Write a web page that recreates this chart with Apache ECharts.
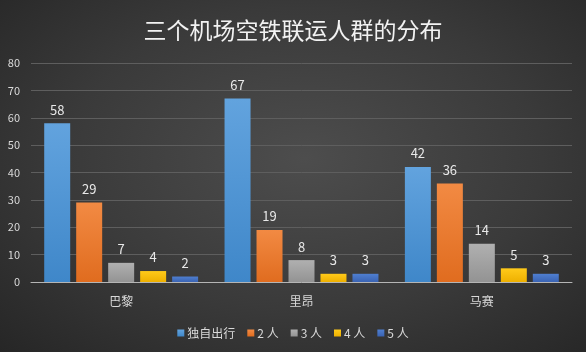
<!DOCTYPE html>
<html>
<head>
<meta charset="utf-8">
<style>
  html, body { margin: 0; padding: 0; }
  #chart {
    width: 586px;
    height: 352px;
    background: radial-gradient(ellipse at 52% 45%, #4d4d4d 0%, #3a3a3a 55%, #262626 100%);
  }
</style>
<script src="https://cdn.jsdelivr.net/npm/echarts@6/dist/echarts.min.js"></script>
</head>
<body>
<div id="chart"></div>
<script>
  const cities = ['巴黎', '里昂', '马赛'];
  const groupNames = ['独自出行', '2 人', '3 人', '4 人', '5 人'];
  const alone = [58, 67, 42];
  const two = [29, 19, 36];
  const three = [7, 8, 14];
  const four = [4, 3, 5];
  const five = [2, 3, 3];
  const yTicks = [0, 10, 20, 30, 40, 50, 60, 70, 80];

  const colors = [
    ['#62a3de', '#3f87c9'],
    ['#f28a43', '#e06c1f'],
    ['#b0b0b0', '#939393'],
    ['#ffca1a', '#eeb000'],
    ['#4f7fd0', '#3a63b3'],
  ];
  const seriesData = [alone, two, three, four, five];

  const font = '"Noto Sans CJK SC", "Noto Sans", sans-serif';
  const chart = echarts.init(document.getElementById('chart'));

  const option = {
    color: colors.map(c => c[0]),
    textStyle: { fontFamily: font },
    title: {
      text: '三个机场空铁联运人群的分布',
      left: 'center',
      top: 14,
      textStyle: { color: '#f2f2f2', fontSize: 23, fontWeight: 'normal', fontFamily: font },
    },
    legend: {
      data: groupNames,
      bottom: 8,
      left: 'center',
      itemWidth: 7,
      itemHeight: 7,
      itemGap: 12,
      icon: 'rect',
      textStyle: { color: '#d9d9d9', fontSize: 12, padding: [0, 0, 0, -2] },
    },
    grid: { left: 31, right: 14, top: 63, bottom: 70 },
    xAxis: {
      type: 'category',
      data: cities,
      axisLine: { lineStyle: { color: '#b5b5b5', width: 1 } },
      axisTick: { show: false },
      axisLabel: { color: '#d9d9d9', fontSize: 12, margin: 13 },
    },
    yAxis: {
      type: 'value',
      min: yTicks[0],
      max: yTicks[yTicks.length - 1],
      interval: 10,
      axisLine: { show: false },
      axisTick: { show: false },
      axisLabel: { color: '#d9d9d9', fontSize: 11, margin: 11 },
      splitLine: { lineStyle: { color: '#5e5e5e', width: 1 } },
    },
    series: groupNames.map((name, i) => ({
      name,
      type: 'bar',
      data: seriesData[i],
      barWidth: 26,
      barGap: '23%',
      itemStyle: {
        color: new echarts.graphic.LinearGradient(0, 0, 0, 1, [
          { offset: 0, color: colors[i][0] },
          { offset: 1, color: colors[i][1] },
        ]),
      },
      label: {
        show: true,
        position: 'top',
        distance: 7,
        color: '#e8e8e8',
        fontSize: 13,
      },
    })),
  };

  chart.setOption(option);
</script>
</body>
</html>
